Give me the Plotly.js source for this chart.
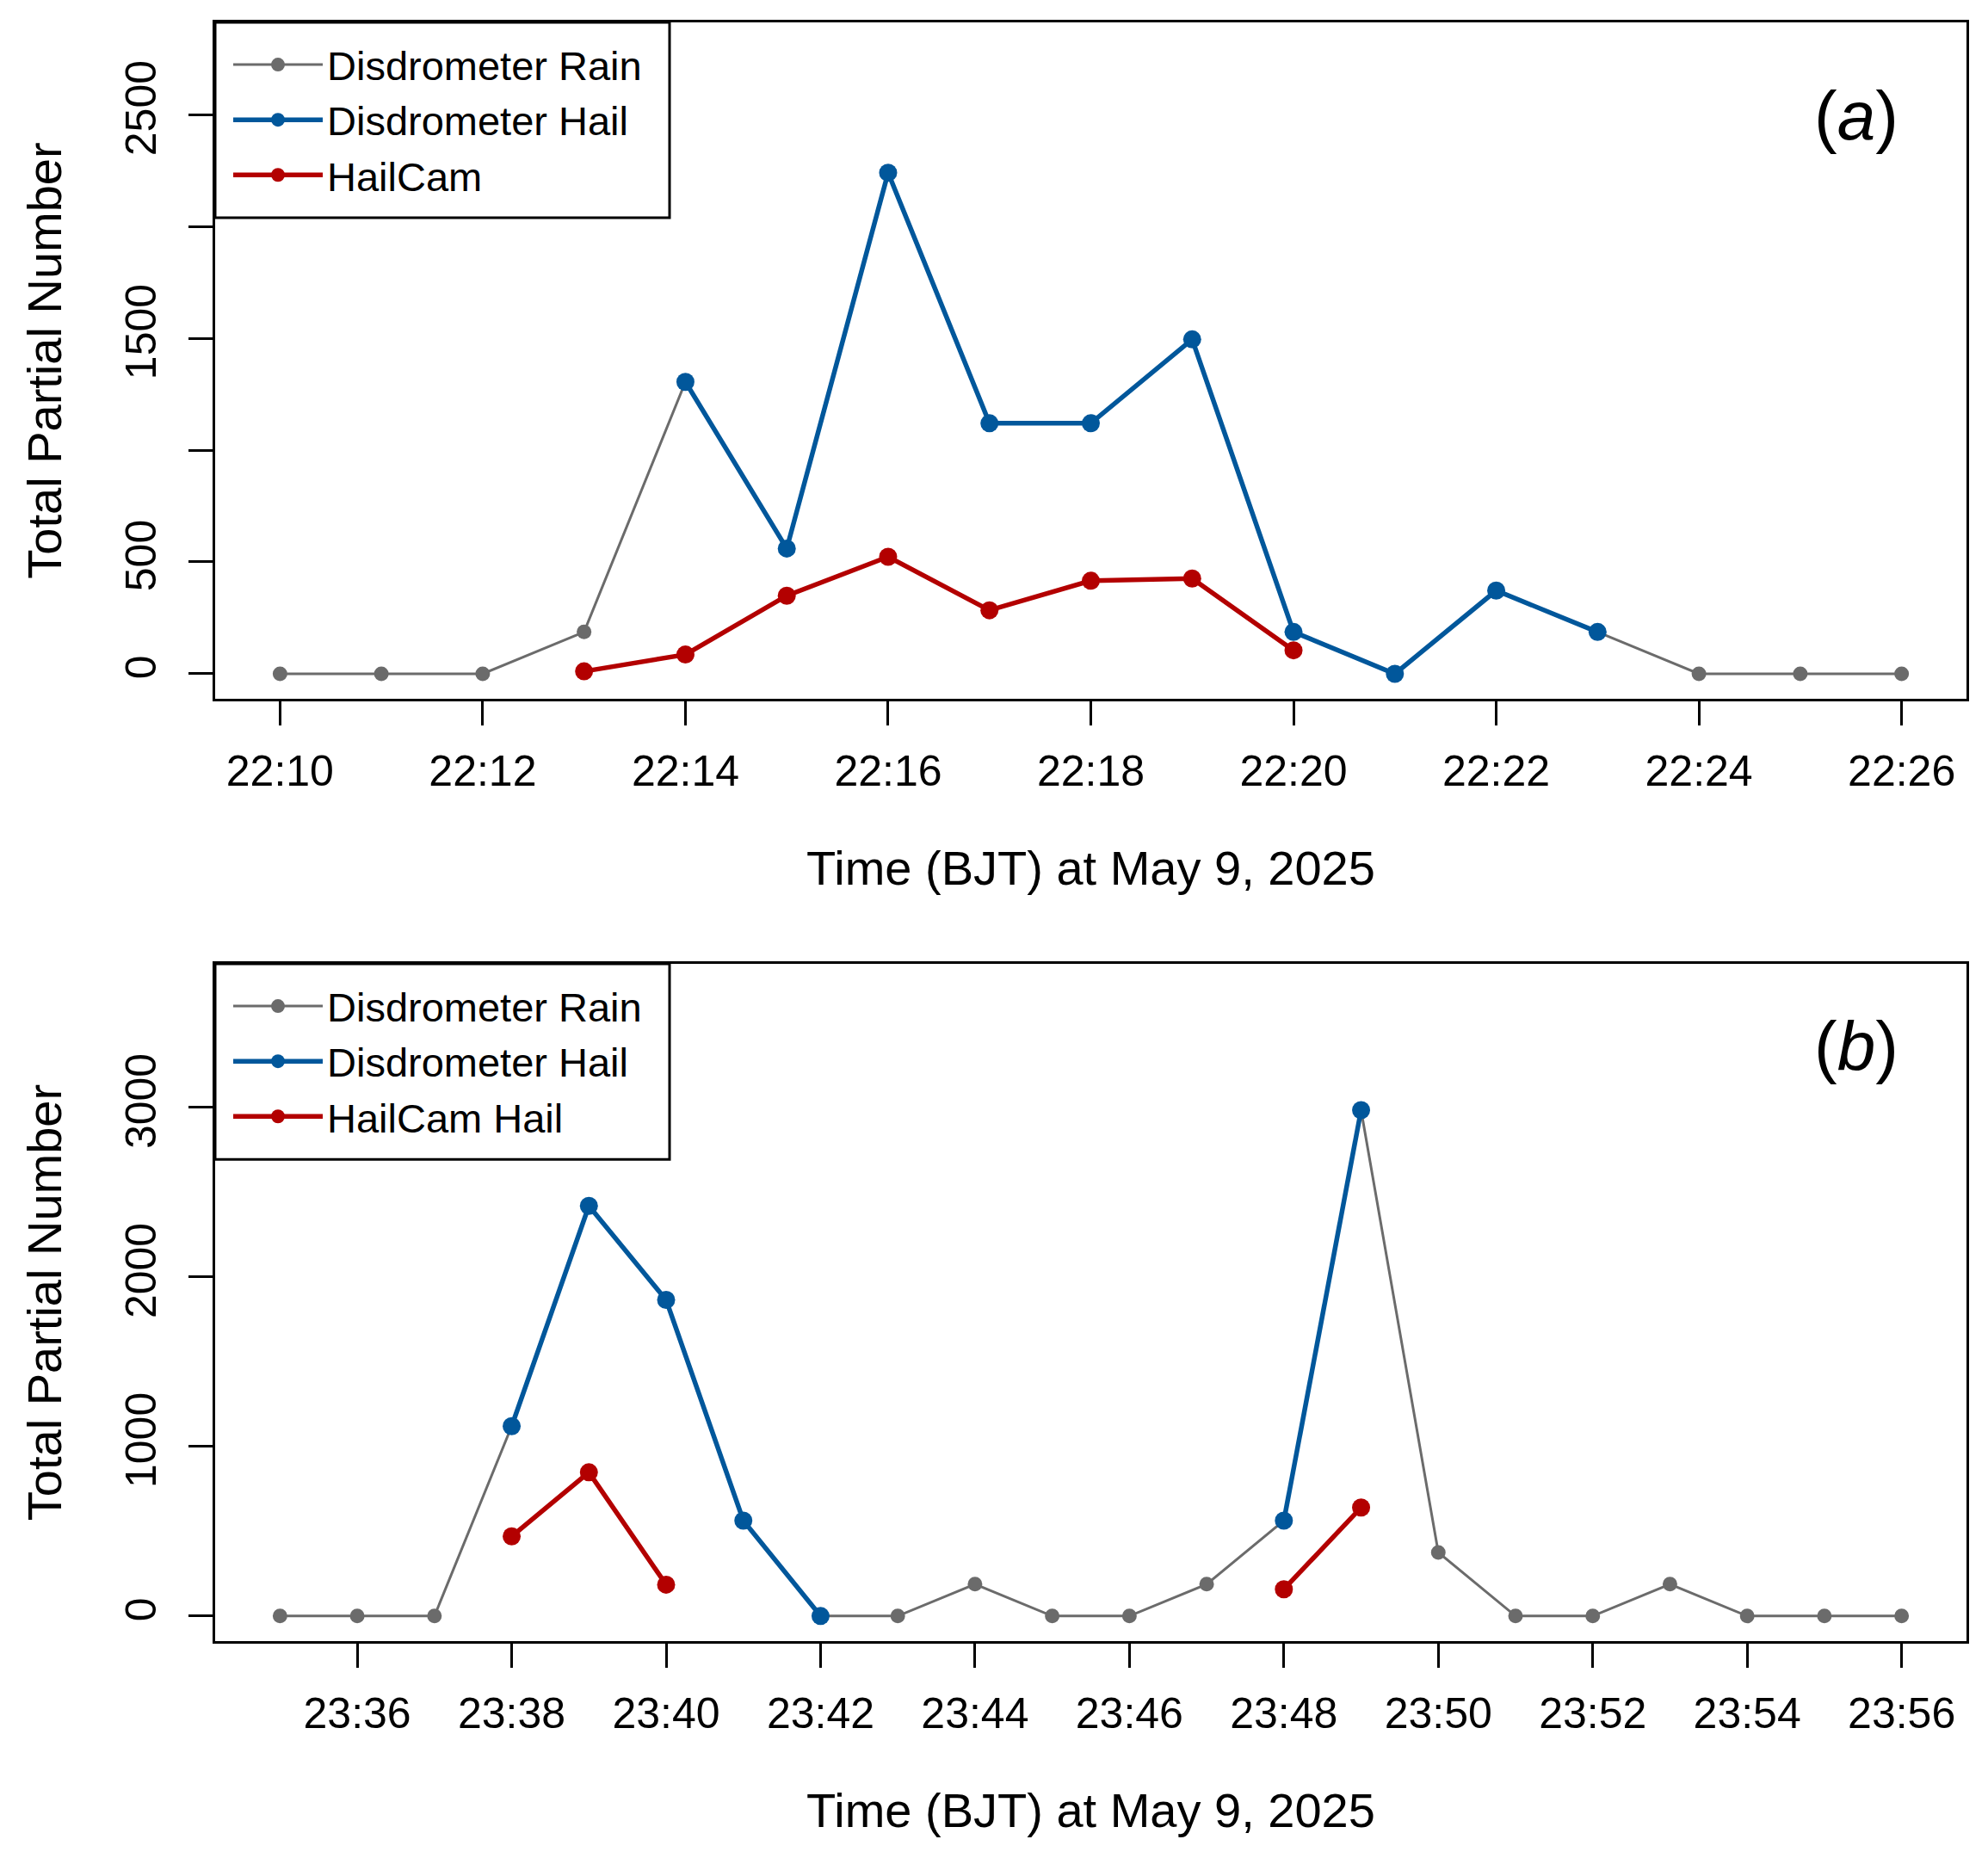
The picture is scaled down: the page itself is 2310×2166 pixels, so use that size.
<!DOCTYPE html>
<html>
<head>
<meta charset="utf-8">
<script src="https://cdn.plot.ly/plotly-3.0.1.min.js"></script>
<style>
  html, body { margin: 0; padding: 0; background: #ffffff; }
  #chart { width: 2310px; height: 2166px; }
</style>
</head>
<body>
<div id="chart"></div>
<script>
// ---------- data ----------
var dateStr = '2025-05-09';

var timesA = ['22:10','22:11','22:12','22:13','22:14','22:15','22:16','22:17','22:18',
              '22:19','22:20','22:21','22:22','22:23','22:24','22:25','22:26'];
var rainA  = [0, 0, 0, 187, 1305, 560, 2240, 1120, 1120, 1495, 187, 0, 372, 187, 0, 0, 0];
var hailA  = [null, null, null, null, 1305, 560, 2240, 1120, 1120, 1495, 187, 0, 372, 187, null, null, null];
var camA   = [null, null, null, 11, 86, 349, 523, 284, 416, 426, 105, null, null, null, null, null, null];

var timesB = ['23:35','23:36','23:37','23:38','23:39','23:40','23:41','23:42','23:43','23:44','23:45',
              '23:46','23:47','23:48','23:49','23:50','23:51','23:52','23:53','23:54','23:55','23:56'];
var rainB  = [0, 0, 0, 1120, 2420, 1865, 563, 0, 0, 188, 0, 0, 188, 563, 2985, 375, 0, 0, 188, 0, 0, 0];
var hailB  = [null, null, null, 1120, 2420, 1865, 563, 0, null, null, null, null, null, 563, 2985, null, null, null, null, null, null, null];
var camB   = [null, null, null, 470, 848, 185, null, null, null, null, null, null, null, 158, 640, null, null, null, null, null, null, null];

var namesA = ['Disdrometer Rain', 'Disdrometer Hail', 'HailCam'];
var namesB = ['Disdrometer Rain', 'Disdrometer Hail', 'HailCam Hail'];

var yTicksA = [0, 500, 1000, 1500, 2000, 2500];
var yTextA  = ['0', '500', '', '1500', '', '2500'];
var yTicksB = [0, 1000, 2000, 3000];
var yTextB  = ['0', '1000', '2000', '3000'];

var xTitle = 'Time (BJT) at May 9, 2025';
var yTitle = 'Total Partial Number';

// ---------- styles ----------
var FONT = 'Liberation Sans, Arial, Helvetica, sans-serif';
var GRAY = '#6b6b6b', BLUE = '#01579b', RED = '#b30000';

function toDates(ts) { return ts.map(function (t) { return dateStr + ' ' + t; }); }

function mk(x, y, name, color, lw, ms, xa, ya, leg) {
  return {
    type: 'scatter', mode: 'lines+markers', x: x, y: y, name: name,
    xaxis: xa, yaxis: ya, legend: leg, connectgaps: false,
    line: { color: color, width: lw },
    marker: { color: color, size: ms, symbol: 'circle' },
    hoverinfo: 'x+y'
  };
}

var xA = toDates(timesA), xB = toDates(timesB);
var traces = [
  mk(xA, rainA, namesA[0], GRAY, 3, 17, 'x', 'y', 'legend'),
  mk(xA, hailA, namesA[1], BLUE, 5.5, 21, 'x', 'y', 'legend'),
  mk(xA, camA,  namesA[2], RED,  5.5, 21, 'x', 'y', 'legend'),
  mk(xB, rainB, namesB[0], GRAY, 3, 17, 'x2', 'y2', 'legend2'),
  mk(xB, hailB, namesB[1], BLUE, 5.5, 21, 'x2', 'y2', 'legend2'),
  mk(xB, camB,  namesB[2], RED,  5.5, 21, 'x2', 'y2', 'legend2')
];

function xaxisCfg(anchor, range, tick0) {
  return {
    type: 'date', anchor: anchor, domain: [0, 1], range: range,
    tick0: tick0, dtick: 120000, tickformat: '%H:%M',
    ticks: 'outside', ticklen: 28, tickwidth: 3, tickcolor: '#000',
    showline: true, linewidth: 3, linecolor: '#000', mirror: true,
    showgrid: false, zeroline: false,
    tickfont: { family: FONT, size: 50, color: '#000' },
    ticklabelstandoff: 10,
    title: { text: xTitle, font: { family: FONT, size: 56, color: '#000' }, standoff: 66 }
  };
}
function yaxisCfg(anchor, domain, range, vals, text) {
  return {
    anchor: anchor, domain: domain, range: range,
    tickmode: 'array', tickvals: vals, ticktext: text, tickangle: -90,
    ticks: 'outside', ticklen: 28, tickwidth: 3, tickcolor: '#000',
    showline: true, linewidth: 3, linecolor: '#000', mirror: true,
    showgrid: false, zeroline: false,
    tickfont: { family: FONT, size: 50, color: '#000' },
    ticklabelstandoff: 18,
    title: { text: yTitle, font: { family: FONT, size: 56, color: '#000' }, standoff: 47 }
  };
}

var domA = [0.5821, 1], domB = [0, 0.4184];
var PLOT_H = 2166 - 26 - 259;

var legCommon = {
  xref: 'paper', yref: 'paper', x: 16 / 2035, xanchor: 'left', yanchor: 'top',
  bgcolor: 'rgba(0,0,0,0)', borderwidth: 0,
  font: { family: FONT, size: 47, color: '#000' },
  itemwidth: 104, tracegroupgap: 0
};

// legend frame (R-style box touching the top-left corner of each panel)
function legendBox(xd, yd) {
  return {
    type: 'rect', xref: xd, yref: yd, x0: 0, x1: 528 / 2035, y0: 1 - 227 / 786, y1: 1,
    line: { color: '#000', width: 3 }, fillcolor: '#ffffff', layer: 'above'
  };
}

var layout = {
  width: 2310, height: 2166,
  margin: { l: 250, r: 25, t: 26, b: 259, pad: 0 },
  paper_bgcolor: '#ffffff', plot_bgcolor: '#ffffff',
  font: { family: FONT, color: '#000' },
  xaxis:  xaxisCfg('y',  ['2025-05-09 22:09:21.6', '2025-05-09 22:26:38.4'], '2025-05-09 22:10'),
  yaxis:  yaxisCfg('x',  domA, [-112, 2912], yTicksA, yTextA),
  xaxis2: xaxisCfg('y2', ['2025-05-09 23:34:09.6', '2025-05-09 23:56:50.4'], '2025-05-09 23:36'),
  yaxis2: yaxisCfg('x2', domB, [-148, 3848], yTicksB, yTextB),
  legend:  Object.assign({}, legCommon, { y: domA[1] - 12 / PLOT_H }),
  legend2: Object.assign({}, legCommon, { y: domB[1] - 12 / PLOT_H }),
  showlegend: true,
  shapes: [legendBox('x domain', 'y domain'), legendBox('x2 domain', 'y2 domain')],
  annotations: [
    { xref: 'x domain', yref: 'y domain', x: 0.937, y: 0.862, text: '(<i>a</i>)', showarrow: false,
      font: { family: FONT, size: 80, color: '#000' }, xanchor: 'center', yanchor: 'middle' },
    { xref: 'x2 domain', yref: 'y2 domain', x: 0.937, y: 0.879, text: '(<i>b</i>)', showarrow: false,
      font: { family: FONT, size: 80, color: '#000' }, xanchor: 'center', yanchor: 'middle' }
  ]
};

Plotly.newPlot('chart', traces, layout, { displayModeBar: false, staticPlot: true });
</script>
</body>
</html>
